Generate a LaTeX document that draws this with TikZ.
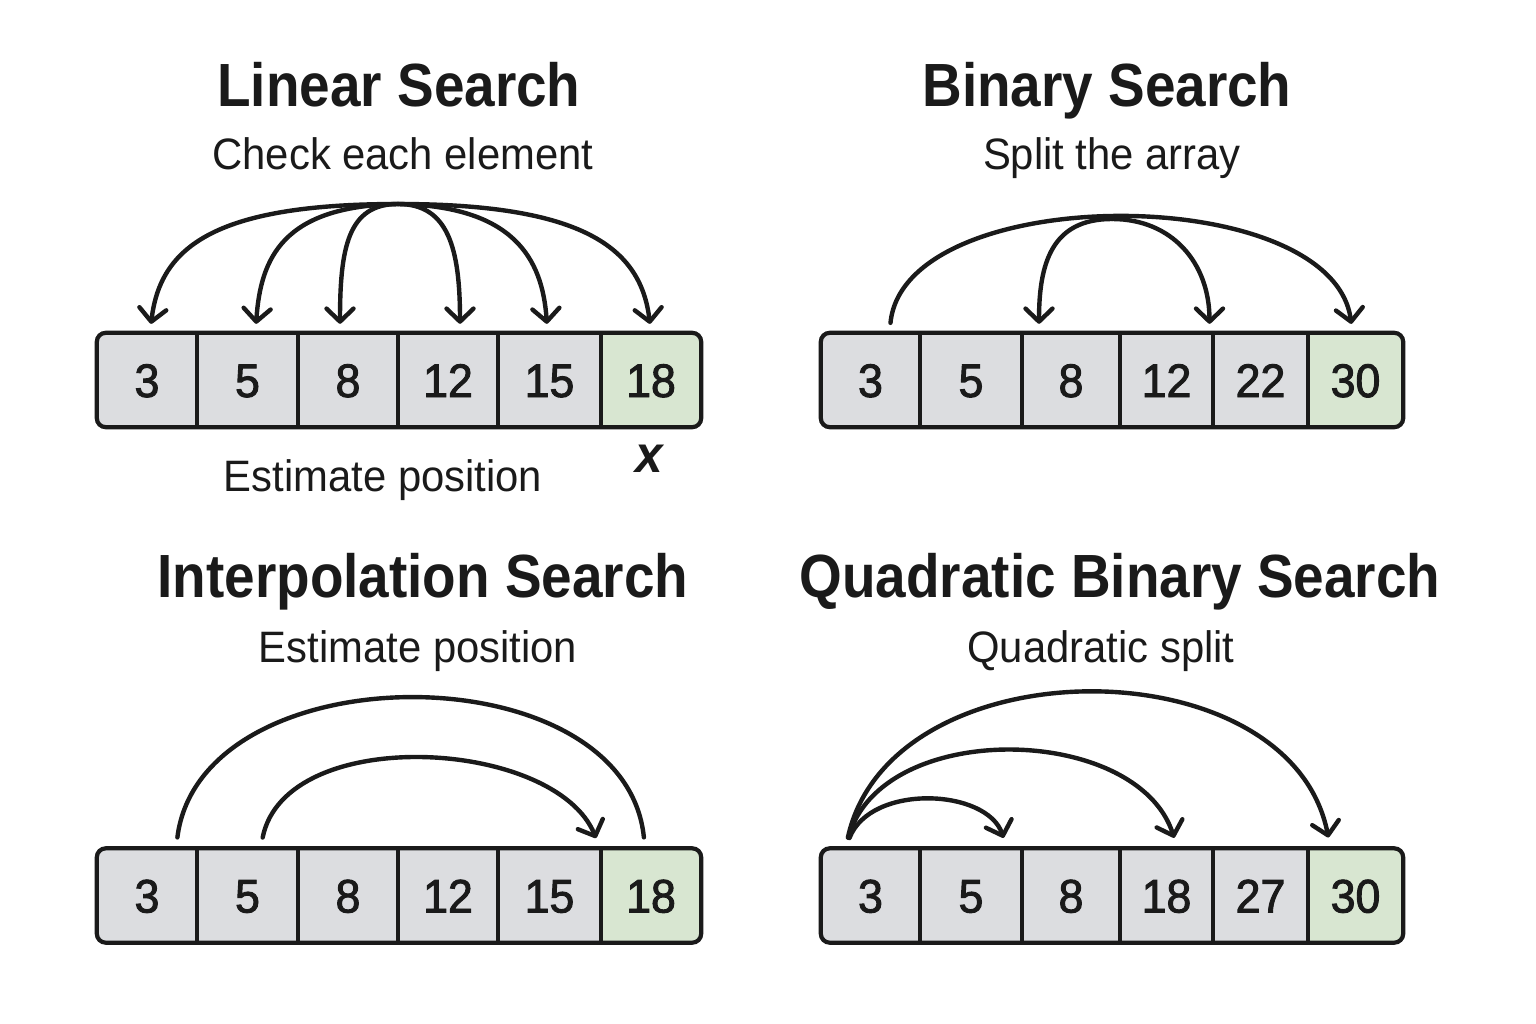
\documentclass[tikz,border=0pt]{standalone}
\usepackage{fontspec}
\setmainfont{Liberation Sans}
\newfontfamily\headfont[FakeStretch=0.9]{Liberation Sans}
\newfontfamily\notefont[FakeStretch=0.95]{Liberation Sans}
\newfontfamily\cellfont[FakeStretch=0.95, FakeBold=2]{Liberation Sans}
\usetikzlibrary{arrows.meta}

\definecolor{cellgray}{RGB}{220,221,224}
\definecolor{cellgreen}{RGB}{216,230,209}
\definecolor{ink}{RGB}{26,26,26}

\tikzset{
  heading/.style={anchor=base, text=ink, font=\headfont\fontsize{61}{70}\selectfont\bfseries},
  caption/.style={anchor=base, text=ink, font=\notefont\fontsize{44}{52}\selectfont},
  cell/.style={fill=cellgray, inner sep=0pt, minimum height=94pt, text height=34pt, text depth=0pt,
    text=ink, font=\cellfont\fontsize{47}{52}\selectfont},
  found/.style={cell, fill=cellgreen},
  frame/.style={draw=ink, line width=4.2pt, rounded corners=9pt},
  divider/.style={draw=ink, line width=3.6pt},
  jump/.style={draw=ink, line width=4.4pt, line cap=round, -{Straight Barb[length=13pt,width=27pt,round]}, shorten >=9pt},
  bridge/.style={draw=ink, line width=4.4pt, line cap=round},
}

\begin{document}
\begin{tikzpicture}[x=1pt, y=-1pt]
  \fill[white] (0,0) rectangle (1536,1024);
  \useasboundingbox (0,0) rectangle (1536,1024);

  % linear search
  \node[heading] (lintitle) at (399,107) {Linear Search};
  \node[caption] (linsub) at (403,170) {Check each element};
  \begin{scope}
    \clip[rounded corners=9pt] (97,333) rectangle (701,427);
    \foreach \v/\a/\b [count=\i] in {3/97/197, 5/197/298, 8/298/398, 12/398/498, 15/498/601}
      \node[cell, minimum width={(\b-\a)*1pt}] (l\i) at ({(\a+\b)/2},380) {\v};
    \node[found, minimum width=100pt] (l6) at (651,380) {18};
  \end{scope}
  \draw[frame] (l1.north west) rectangle (l6.south east);
  \foreach \i in {1,...,5}
    \draw[divider] (l\i.north east) -- (l\i.south east);
  \coordinate (lhub) at (398,204);
  \draw[jump] (lhub) .. controls +(-185,0) and +(10,-85) .. ([xshift=3pt]l1.north);
  \draw[jump] (lhub) .. controls +(-115,2) and +(5,-75) .. ([xshift=8pt]l2.north);
  \draw[jump] (lhub) .. controls +(-50,0) and +(0,-85) .. ([xshift=-8pt]l3.north);
  \draw[jump] (lhub) .. controls +(50,0) and +(0,-85) .. ([xshift=12pt]l4.north);
  \draw[jump] (lhub) .. controls +(115,2) and +(-5,-75) .. ([xshift=-2pt]l5.north);
  \draw[jump] (lhub) .. controls +(185,0) and +(-10,-85) .. (l6.north);
  \node[caption] (linnote) at (383,491) {Estimate position};
  \node[anchor=base, text=ink, font=\notefont\fontsize{52}{56}\selectfont\bfseries\itshape] (linx) at (649,472) {x};

  % binary search
  \node[heading] (bintitle) at (1107,107) {Binary Search};
  \node[caption] (binsub) at (1112,170) {Split the array};
  \begin{scope}
    \clip[rounded corners=9pt] (821,333) rectangle (1403,427);
    \foreach \v/\a/\b [count=\i] in {3/821/920, 5/920/1022, 8/1022/1120, 12/1120/1213, 22/1213/1308}
      \node[cell, minimum width={(\b-\a)*1pt}] (b\i) at ({(\a+\b)/2},380) {\v};
    \node[found, minimum width=95pt] (b6) at (1355.5,380) {30};
  \end{scope}
  \draw[frame] (b1.north west) rectangle (b6.south east);
  \foreach \i in {1,...,5}
    \draw[divider] (b\i.north east) -- (b\i.south east);
  \coordinate (bhub) at (1112,219);
  \draw[jump, shorten <=10pt] ([xshift=19pt]b1.north) .. controls +(15,-152) and +(-20,-152) .. ([xshift=-3pt]b6.north);
  \draw[jump] (bhub) .. controls +(-60,0) and +(0,-70) .. ([xshift=-32pt]b3.north);
  \draw[jump] (bhub) .. controls +(60,0) and +(0,-70) .. ([xshift=43pt]b4.north);

  % interpolation search
  \node[heading] (inttitle) at (423,597) {Interpolation Search};
  \node[caption] (intsub) at (418,662) {Estimate position};
  \begin{scope}
    \clip[rounded corners=9pt] (97,849) rectangle (701,942);
    \foreach \v/\a/\b [count=\i] in {3/97/197, 5/197/298, 8/298/398, 12/398/498, 15/498/601}
      \node[cell, minimum width={(\b-\a)*1pt}] (i\i) at ({(\a+\b)/2},895.5) {\v};
    \node[found, minimum width=100pt] (i6) at (651,895.5) {18};
  \end{scope}
  \draw[frame] (i1.north west) rectangle (i6.south east);
  \foreach \i in {1,...,5}
    \draw[divider] (i\i.north east) -- (i\i.south east);
  \draw[bridge, shorten <=11pt, shorten >=11pt] ([xshift=29pt]i1.north) .. controls +(25,-198) and +(-20,-198) .. ([xshift=-6pt]i6.north);
  \draw[jump, shorten <=11pt, shorten >=11pt] ([xshift=13pt]i2.north) .. controls +(25,-125) and +(-45,-110) .. ([xshift=-1pt]i5.north east);

  % quadratic binary search
  \node[heading] (quatitle) at (1120,597) {Quadratic Binary Search};
  \node[caption] (quasub) at (1101,662) {Quadratic split};
  \begin{scope}
    \clip[rounded corners=9pt] (821,849) rectangle (1403,942);
    \foreach \v/\a/\b [count=\i] in {3/821/920, 5/920/1022, 8/1022/1120, 18/1120/1213, 27/1213/1308}
      \node[cell, minimum width={(\b-\a)*1pt}] (q\i) at ({(\a+\b)/2},895.5) {\v};
    \node[found, minimum width=95pt] (q6) at (1355.5,895.5) {30};
  \end{scope}
  \draw[frame] (q1.north west) rectangle (q6.south east);
  \foreach \i in {1,...,5}
    \draw[divider] (q\i.north east) -- (q\i.south east);
  \coordinate (qfoot) at ([xshift=-25pt]q1.north);
  \draw[jump, shorten <=11pt, shorten >=11pt] (qfoot) .. controls +(25,-65) and +(-20,-60) .. ([xshift=36pt]q2.north);
  \draw[jump, shorten <=11pt, shorten >=11pt] (qfoot) .. controls +(35,-130) and +(-40,-125) .. ([xshift=11pt]q4.north);
  \draw[jump, shorten <=11pt, shorten >=11pt] (qfoot) .. controls +(45,-205) and +(-40,-205) .. ([xshift=-25pt]q6.north);
\end{tikzpicture}
\end{document}
